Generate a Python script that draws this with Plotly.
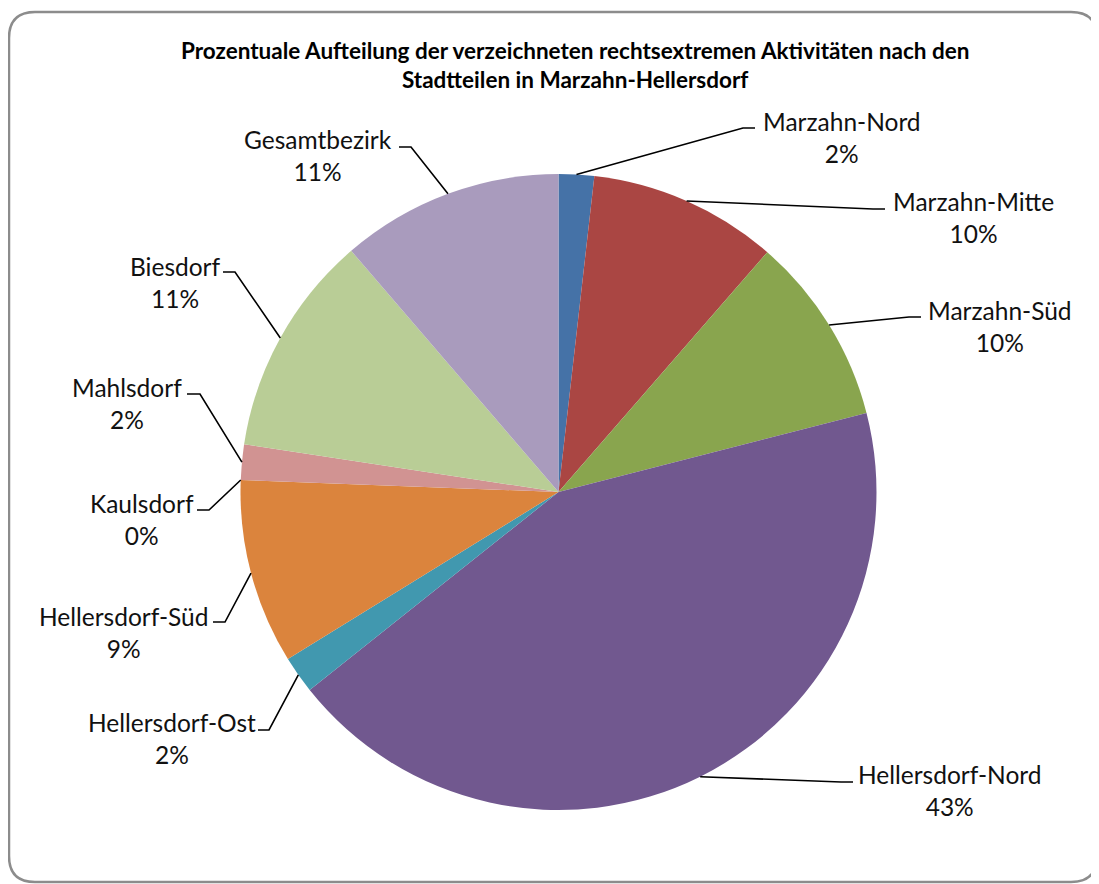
import plotly.graph_objects as go
import numpy as np

# the page body adds an 8px margin, so the figure is laid out in window pixels minus that offset
OFF = 8
W, H = 1099 - OFF, 884 - OFF

districts = [
    "Marzahn-Nord", "Marzahn-Mitte", "Marzahn-Süd", "Hellersdorf-Nord",
    "Hellersdorf-Ost", "Hellersdorf-Süd", "Kaulsdorf", "Mahlsdorf",
    "Biesdorf", "Gesamtbezirk",
]
shares = [1.8, 9.6, 9.6, 43.3, 1.9, 9.4, 0.0, 1.8, 11.3, 11.3]

COLORS = [
    "#4572A7", "#AA4643", "#89A54E", "#71588F", "#4198AF",
    "#DB843D", "#93A9CF", "#D19392", "#B9CD96", "#A99BBD",
]

TITLE = ("<b>Prozentuale Aufteilung der verzeichneten rechtsextremen Aktivitäten nach den"
         "<br>Stadtteilen in Marzahn-Hellersdorf</b>")

# pie geometry in window pixels
CX, CY, R = 558.5, 492, 318

# label placement in window pixels: text centre, elbow of leader line, x where the short horizontal ends
LABEL_POS = {
    "Marzahn-Nord": ((842, 138), (743, 128), 755),
    "Marzahn-Mitte": ((973, 218), (873, 209), 885),
    "Marzahn-Süd": ((1000, 326), (909, 317), 921),
    "Hellersdorf-Nord": ((949, 790), (841, 782), 853),
    "Hellersdorf-Ost": ((172, 738), (269, 730), 258),
    "Hellersdorf-Süd": ((124, 632), (225, 622), 213),
    "Kaulsdorf": ((142, 519), (209, 510), 197),
    "Mahlsdorf": ((127, 403), (200, 394), 187),
    "Biesdorf": ((175, 282), (235, 272), 223),
    "Gesamtbezirk": ((318, 156), (411, 147), 399),
}


def px(x):
    return (x - OFF) / W


def py(y):
    return 1 - (y - OFF) / H


fig = go.Figure()
fig.add_trace(go.Pie(
    labels=districts,
    values=shares,
    sort=False,
    direction="clockwise",
    rotation=0,
    textinfo="none",
    marker=dict(colors=COLORS, line=dict(width=0)),
    domain=dict(x=[px(CX - R), px(CX + R)], y=[py(CY + R), py(CY - R)]),
    showlegend=False,
    hovertemplate="%{label}: %{percent}<extra></extra>",
))

total = sum(shares)
cum = np.cumsum([0] + shares[:-1])
annotations = []
shapes = []
for name, v, c in zip(districts, shares, cum):
    theta = 2 * np.pi * (c + v / 2) / total
    rx = CX + R * np.sin(theta)
    ry = CY - R * np.cos(theta)
    (tx, ty), (ex, ey), endx = LABEL_POS[name]
    shapes.append(dict(
        type="path", xref="paper", yref="paper",
        path=f"M {px(rx)} {py(ry)} L {px(ex)} {py(ey)} L {px(endx)} {py(ey)}",
        line=dict(color="black", width=1.6),
    ))
    annotations.append(dict(
        x=px(tx), y=py(ty), xref="paper", yref="paper",
        text=f"{name}<br>{round(v / total * 100):.0f}%",
        showarrow=False, xanchor="center", yanchor="middle",
        font=dict(size=24.5, color="#111111", family="Lato"),
    ))

annotations.append(dict(
    x=px(575), y=py(65), xref="paper", yref="paper",
    text=TITLE, showarrow=False, xanchor="center", yanchor="middle",
    font=dict(size=22.5, color="black", family="Lato"),
))

# rounded chart border
x0, y0, x1, y1, rr = 9, 12, 1097, 882, 26
border = (
    f"M {px(x0 + rr)} {py(y0)} L {px(x1 - rr)} {py(y0)} "
    f"Q {px(x1)} {py(y0)} {px(x1)} {py(y0 + rr)} L {px(x1)} {py(y1 - rr)} "
    f"Q {px(x1)} {py(y1)} {px(x1 - rr)} {py(y1)} L {px(x0 + rr)} {py(y1)} "
    f"Q {px(x0)} {py(y1)} {px(x0)} {py(y1 - rr)} L {px(x0)} {py(y0 + rr)} "
    f"Q {px(x0)} {py(y0)} {px(x0 + rr)} {py(y0)} Z"
)
shapes.append(dict(type="path", xref="paper", yref="paper", path=border,
                   line=dict(color="#8c8c8c", width=2.5)))

fig.update_layout(
    width=W, height=H,
    margin=dict(l=0, r=0, t=0, b=0),
    paper_bgcolor="white",
    plot_bgcolor="white",
    font_family="Lato",
    annotations=annotations,
    shapes=shapes,
)

fig.write_html("out.html")
